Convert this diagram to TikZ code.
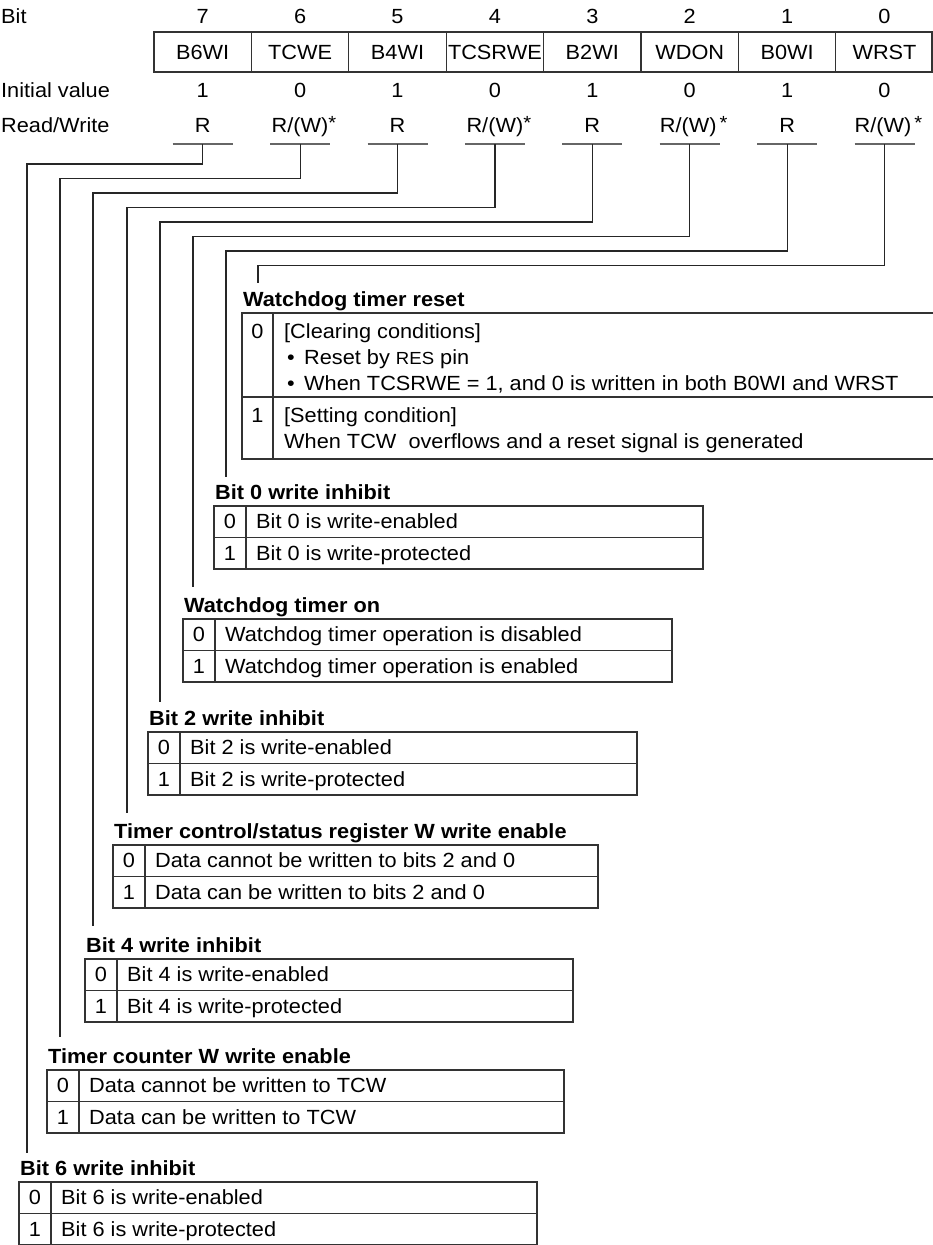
\documentclass[tikz,border=0pt]{standalone}
\usepackage{fontspec}
\setmainfont{Liberation Sans}[FakeStretch=1.06]
\newcommand\bittable[7]{%
  \node[ttl] (#1t) at (#2+1,#3-7) {#5};
  \draw[tbl] (#2,#3) rectangle (#4,#3+63);
  \draw[tbl] (#2,#3+31.5) -- (#4,#3+31.5);
  \draw[tbl] (#2+32,#3) -- (#2+32,#3+63);
  \node[ctr] (#1z) at (#2+16,#3+22.5) {0};
  \node[lbl] (#1a) at (#2+42,#3+22.5) {#6};
  \node[ctr] (#1o) at (#2+16,#3+54) {1};
  \node[lbl] (#1b) at (#2+42,#3+54) {#7};
}
\newcommand\astmark{\rlap{\raisebox{0.12em}{\fontsize{19}{19}\selectfont *}}}
\newcommand\rwa{R/(W)\astmark}
\newcommand\rwb{R/(W)\hspace{3pt}\astmark}
\begin{document}
\begin{tikzpicture}[x=1pt,y=-1pt,
  font=\fontsize{20.5}{24}\selectfont,
  lbl/.style={inner sep=0pt,anchor=base west},
  ctr/.style={inner sep=0pt,anchor=base},
  ttl/.style={inner sep=0pt,anchor=base west,font=\fontsize{20.5}{24}\selectfont\bfseries},
  tbl/.style={line width=1.2pt,draw=black!80},
  conn/.style={line width=1.2pt,draw=black!85},
  uline/.style={line width=2pt,draw=black!60}]
\useasboundingbox (0,0) rectangle (933,1245);

% header
\node[lbl] (hbit) at (1,23) {Bit};
\node[lbl] (hinit) at (1,97) {Initial value};
\node[lbl] (hrw) at (1,132) {Read/Write};
\draw[tbl] (154,32) rectangle (932,72);
\foreach \i in {1,...,7} { \draw[tbl] (154+97.4*\i,32) -- (154+97.4*\i,72); }

\foreach \b/\nm/\iv/\rw [count=\k from 0] in
  {7/B6WI/1/R, 6/TCWE/0/\rwa, 5/B4WI/1/R, 4/TCSRWE/0/\rwa,
   3/B2WI/1/R, 2/WDON/0/\rwb, 1/B0WI/1/R, 0/WRST/0/\rwb} {
  \coordinate (c\b) at (154+97.4*\k+48.7,0);
  \node[ctr] (n\b) at (c\b |- 0,23) {\b};
  \node[ctr] (r\b) at (c\b |- 0,59) {\nm};
  \node[ctr] (i\b) at (c\b |- 0,97) {\iv};
  \node[ctr] (w\b) at (c\b |- 0,132) {\rw};
  \coordinate (u\b) at (c\b |- 0,144);
  \draw[uline] ([xshift=-30pt]u\b) -- ([xshift=30pt]u\b);
}

% WRST table
\node[ttl] (wrstt) at (243,306) {Watchdog timer reset};
\draw[tbl] (933,313) -- (242,313) -- (242,459) -- (933,459);
\draw[tbl] (242,397) -- (933,397);
\draw[tbl] (273,313) -- (273,459);
\node[ctr] (wrstz) at (257.5,338) {0};
\node[lbl] (wrsta) at (284,338) {[Clearing conditions]};
\node[lbl] (wrstb1) at (287,364) {\textbullet};
\node[lbl] (wrstb) at (304,364) {Reset by {\fontsize{17.5}{18}\selectfont RES} pin};
\node[lbl] (wrstc1) at (287,390) {\textbullet};
\node[lbl] (wrstc) at (304,390) {When TCSRWE = 1, and 0 is written in both B0WI and WRST};
\node[ctr] (wrsto) at (257.5,422) {1};
\node[lbl] (wrstd) at (284,422) {[Setting condition]};
\node[lbl] (wrste) at (284,448) {When TCW\ \ overflows and a reset signal is generated};

% other tables
\bittable{bzw}{214}{506}{703}{Bit 0 write inhibit}{Bit 0 is write-enabled}{Bit 0 is write-protected}
\bittable{wdon}{183}{619}{672}{Watchdog timer on}{Watchdog timer operation is disabled}{Watchdog timer operation is enabled}
\bittable{btw}{148}{732}{637}{Bit 2 write inhibit}{Bit 2 is write-enabled}{Bit 2 is write-protected}
\bittable{tcsr}{113}{845}{598}{Timer control/status register W write enable}{Data cannot be written to bits 2 and 0}{Data can be written to bits 2 and 0}
\bittable{bfw}{85}{959}{573}{Bit 4 write inhibit}{Bit 4 is write-enabled}{Bit 4 is write-protected}
\bittable{tcw}{47}{1070}{564}{Timer counter W write enable}{Data cannot be written to TCW}{Data can be written to TCW}
\bittable{bsw}{19}{1182}{537}{Bit 6 write inhibit}{Bit 6 is write-enabled}{Bit 6 is write-protected}

% connector end points
\coordinate (e0) at (258,283);
\coordinate (e1) at (226,477);
\coordinate (e2) at (193,587);
\coordinate (e3) at (160,702);
\coordinate (e4) at (127,813);
\coordinate (e5) at (93,926);
\coordinate (e6) at (60,1037);
\coordinate (e7) at (27,1153);

\draw[conn] (u7) -- ++(0,20) -| (e7);
\draw[conn] (u6) -- ++(0,34.5) -| (e6);
\draw[conn] (u5) -- ++(0,49) -| (e5);
\draw[conn] (u4) -- ++(0,63.5) -| (e4);
\draw[conn] (u3) -- ++(0,78) -| (e3);
\draw[conn] (u2) -- ++(0,92.5) -| (e2);
\draw[conn] (u1) -- ++(0,107) -| (e1);
\draw[conn] (u0) -- ++(0,121.5) -| (e0);
\end{tikzpicture}
\end{document}
